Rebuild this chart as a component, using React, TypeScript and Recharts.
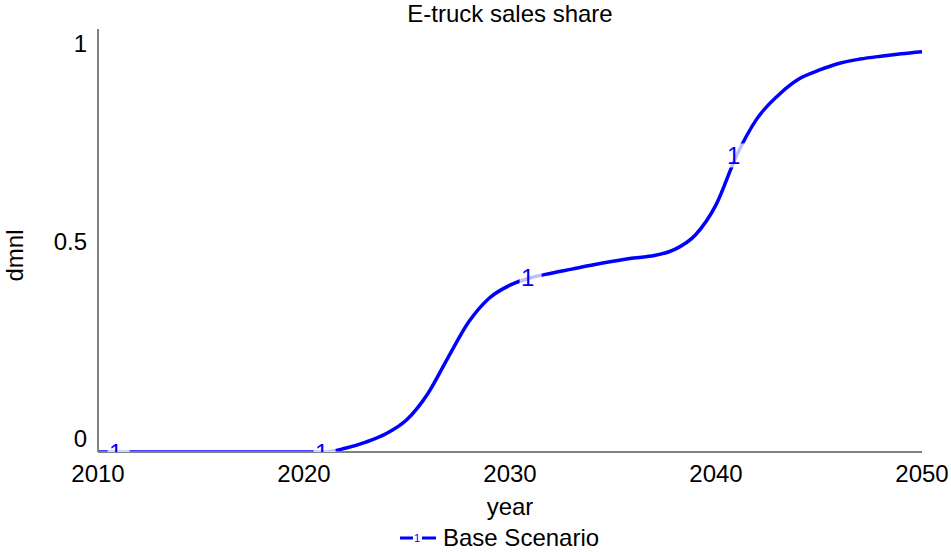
import { Legend, Line, LineChart, XAxis, YAxis } from "recharts";

const FONT = "Arial, 'Liberation Sans', sans-serif";
const BLUE = "#0000ff";
const AXIS = "#808080";

// values, one per year
const years = [
  2010, 2011, 2012, 2013, 2014, 2015, 2016, 2017, 2018, 2019, 2020, 2021, 2022, 2023, 2024, 2025,
  2026, 2027, 2028, 2029, 2030, 2031, 2032, 2033, 2034, 2035, 2036, 2037, 2038, 2039, 2040, 2041,
  2042, 2043, 2044, 2045, 2046, 2047, 2048, 2049, 2050,
];
const baseScenario = [
  0, 0, 0, 0, 0, 0, 0, 0, 0, 0, 0, 0, 0.009, 0.024, 0.045, 0.079,
  0.141, 0.23, 0.316, 0.374, 0.405, 0.423, 0.434, 0.444, 0.454, 0.463, 0.471, 0.477, 0.492, 0.527, 0.6, 0.72,
  0.81, 0.865, 0.905, 0.927, 0.944, 0.954, 0.961, 0.967, 0.972,
];
const xTicks = [2010, 2020, 2030, 2040, 2050];
const yTicks = [0, 0.5, 1];
const markerYears = [2011, 2021, 2031, 2041];

const data = years.map((year, i) => ({ year, base: baseScenario[i] }));

function YTick({ x, y, payload }: any) {
  const v = payload.value;
  // vensim puts its value labels a bit off the gridline
  const shift = v === 0 ? -13.5 : v === 1 ? 3.5 : -5;
  return (
    <text x={x} y={y + shift} dy="0.355em" textAnchor="end" fontSize={24} fontFamily={FONT} fill="#000">
      {v}
    </text>
  );
}

function renderMarker(props: any) {
  const { cx, cy, payload, index } = props;
  if (!markerYears.includes(payload.year)) return <g key={`m-${index}`} />;
  return (
    <g key={`m-${index}`}>
      <rect x={cx - 11} y={cy - 12} width={22} height={24} fill="#fff" fillOpacity={0.75} />
      <text x={cx - 3} y={cy} dy="0.355em" textAnchor="middle" fontSize={24} fontFamily={FONT} fill={BLUE}>
        1
      </text>
    </g>
  );
}

function LegendContent() {
  return (
    <div
      style={{
        display: "flex",
        alignItems: "center",
        paddingLeft: 400,
        height: 26,
        fontFamily: FONT,
        fontSize: 24,
        lineHeight: "26px",
        color: "#000",
      }}
    >
      <svg width={36} height={14}>
        <line x1={0} y1={7} x2={13} y2={7} stroke={BLUE} strokeWidth={3} />
        <text x={17} y={7} dy="0.355em" textAnchor="middle" fontSize={11} fontFamily={FONT} fill={BLUE}>
          1
        </text>
        <line x1={22} y1={7} x2={36} y2={7} stroke={BLUE} strokeWidth={3} />
      </svg>
      <span style={{ marginLeft: 7 }}>Base Scenario</span>
    </div>
  );
}

export default function App() {
  return (
    <div style={{ position: "absolute", left: 0, top: 0, width: 951, height: 552, background: "#fff" }}>
      <div
        style={{
          position: "absolute",
          left: 98,
          top: 0,
          width: 824,
          textAlign: "center",
          fontFamily: FONT,
          fontSize: 24,
          lineHeight: "27px",
          color: "#000",
        }}
      >
        E-truck sales share
      </div>
      <LineChart width={951} height={552} data={data} margin={{ top: 29, right: 29, bottom: 0, left: 0 }}>
        <XAxis
          dataKey="year"
          type="number"
          domain={[2010, 2050]}
          ticks={xTicks}
          interval={0}
          height={70}
          axisLine={{ stroke: AXIS, strokeWidth: 2 }}
          tickLine={false}
          tickMargin={7}
          tick={{ fill: "#000", fontSize: 24, fontFamily: FONT }}
          label={({ viewBox }: any) => (
            <text
              x={viewBox.x + viewBox.width / 2}
              y={viewBox.y + 63}
              textAnchor="middle"
              fontSize={24}
              fontFamily={FONT}
              fill="#000"
            >
              year
            </text>
          )}
        />
        <YAxis
          type="number"
          domain={[0, 1.027]}
          ticks={yTicks}
          interval={0}
          width={98}
          allowDataOverflow
          axisLine={{ stroke: AXIS, strokeWidth: 2 }}
          tickLine={false}
          tickMargin={5}
          tick={<YTick />}
          label={({ viewBox }: any) => (
            <text
              x={23}
              y={viewBox.y + viewBox.height / 2 + 15}
              transform={`rotate(-90, 23, ${viewBox.y + viewBox.height / 2 + 15})`}
              textAnchor="middle"
              fontSize={24}
              fontFamily={FONT}
              fill="#000"
            >
              dmnl
            </text>
          )}
        />
        <Legend
          verticalAlign="bottom"
          height={30}
          content={<LegendContent />}
          wrapperStyle={{ left: 0, top: 525, width: 951, height: 30 }}
        />
        <Line
          type="monotone"
          dataKey="base"
          name="Base Scenario"
          stroke={BLUE}
          strokeWidth={3.5}
          dot={renderMarker}
          activeDot={false}
          isAnimationActive={false}
        />
      </LineChart>
    </div>
  );
}
